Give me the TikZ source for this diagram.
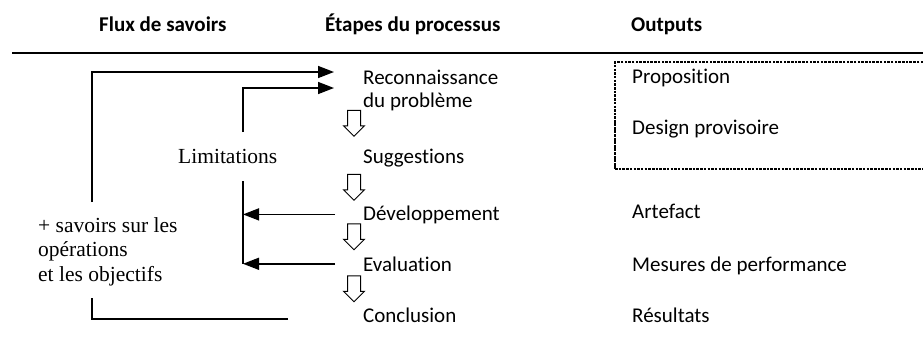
\documentclass[tikz,border=0pt]{standalone}
\usepackage{fontspec}
\setmainfont{Liberation Serif}
\newfontfamily\calib[Ligatures=NoCommon]{Carlito}
\usetikzlibrary{arrows.meta, shapes.arrows, positioning}

\begin{document}
\begin{tikzpicture}[
    x=1pt, y=-1pt,
    head/.style={font=\calib\bfseries\fontsize{21}{25}\selectfont, anchor=base west, inner sep=0pt},
    stage/.style={font=\calib\fontsize{21}{25}\selectfont, anchor=base west, inner sep=0pt},
    flux/.style={font=\fontsize{21.5}{24.5}\selectfont, anchor=base west, inner sep=0pt, align=left},
    link/.style={line width=1.5pt},
    feed/.style={link, -{Triangle[length=16pt, width=12pt]}},
    downarr/.style={draw, line width=1pt, single arrow, shape border rotate=270, minimum height=26pt, minimum width=20pt, single arrow head extend=4pt, single arrow tip angle=90, inner sep=6pt},
    outbox/.style={line width=1.2pt, black, dash pattern=on 2.5pt off 1.2pt}
]
    \useasboundingbox (0,0) rectangle (923,338);
    % Column headings and rule
    \node[head] (hflux) at (99,31) {Flux de savoirs};
    \node[head] (hstep) at (325,31) {Étapes du processus};
    \node[head] (hout) at (631,31) {Outputs};
    \draw[line width=2pt] (12,53) -- (923,53);
    % Process steps
    \node[stage] (reco) at (363,84) {Reconnaissance};
    \node[stage] (prob) at (363,107) {du problème};
    \node[stage] (sugg) at (363,163) {Suggestions};
    \node[stage] (dev) at (363,220) {Développement};
    \node[stage] (eval) at (363,271) {Evaluation};
    \node[stage] (concl) at (363,322) {Conclusion};
    % Outputs of each step
    \node[stage] (prop) at (632,83) {Proposition};
    \node[stage] (design) at (632,134) {Design provisoire};
    \node[stage] (artef) at (632,218) {Artefact};
    \node[stage] (perf) at (632,271) {Mesures de performance};
    \node[stage] (res) at (632,322) {Résultats};
    \draw[outbox] (923,62) -- (615,62) -- (615,116);
    \draw[outbox, line width=1.6pt, dash pattern=on 3pt off 0.6pt] (615,116) -- (615,169);
    \draw[outbox] (615,169) -- (923,169);
    % Knowledge flows
    \node[flux] (limit) at (178,163) {Limitations};
    \node[flux, anchor=north west] (savoirs) at (38,217) {+ savoirs sur les\\opérations\\et les objectifs};
    % Hollow arrows between steps
    \node[downarr] (d1) at (354,120) {};
    \node[downarr] (d2) at (354,184) {};
    \node[downarr] (d3) at (354,233.5) {};
    \node[downarr] (d4) at (354,285.5) {};
    % Outer loop: conclusion back to problem recognition
    \coordinate (o1) at (288,319);
    \coordinate (o2) at (92,298);
    \coordinate (o3) at (92,202);
    \coordinate (o4) at (334,72);
    \draw[link] (o1) -| (o2);
    \draw[feed] (o3) |- (o4);
    % Inner loop: limitations
    \coordinate (i1) at (243,132);
    \coordinate (i2) at (334,88);
    \coordinate (i3) at (243,181);
    \draw[feed] (i1) |- (i2);
    \draw[link] (i3) -- (eval.west -| i3);
    \draw[feed] ([xshift=-28pt]dev.west) -- (dev.west -| i3);
    \draw[feed] ([xshift=-28pt]eval.west) -- (eval.west -| i3);
\end{tikzpicture}
\end{document}
